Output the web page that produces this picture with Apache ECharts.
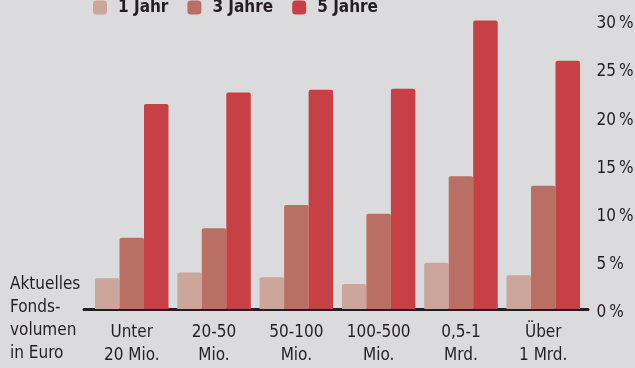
<!DOCTYPE html>
<html>
<head>
<meta charset="utf-8">
<script src="https://cdn.jsdelivr.net/npm/echarts@6/dist/echarts.min.js"></script>
<style>
  html, body { margin: 0; padding: 0; background: #dbdbdd; }
  #chart { width: 635px; height: 368px; }
</style>
</head>
<body>
<div id="chart"></div>
<script>
  // Kategorien (Fondsvolumen)
  var categories = ['Unter\n20 Mio.', '20-50\nMio.', '50-100\nMio.', '100-500\nMio.', '0,5-1\nMrd.', 'Über\n1 Mrd.'];
  var seriesNames = ['1 Jahr', '3 Jahre', '5 Jahre'];
  // Werte in Prozent, aus dem Bild geschätzt
  var einJahr = [3.2, 3.8, 3.3, 2.6, 4.8, 3.5];
  var dreiJahre = [7.4, 8.4, 10.8, 9.9, 13.8, 12.8];
  var fuenfJahre = [21.3, 22.5, 22.8, 22.9, 30.0, 25.8];
  var yTicks = [0, 5, 10, 15, 20, 25, 30];

  var font = '"DejaVu Sans Condensed", "Liberation Sans Narrow", sans-serif';
  var ink = '#231f20';
  var colors = ['#cca59b', '#b96f63', '#c74045'];

  var chart = echarts.init(document.getElementById('chart'));

  function barSeries(name, data) {
    return {
      name: name,
      type: 'bar',
      xAxisIndex: 0,
      yAxisIndex: 0,
      data: data,
      barGap: '0%',
      barCategoryGap: '10.7%',
      itemStyle: { borderRadius: [2, 2, 0, 0] }
    };
  }

  chart.setOption({
    backgroundColor: '#dbdbdd',
    color: colors,
    animation: false,
    title: {
      text: 'Aktuelles\nFonds-\nvolumen\nin Euro',
      left: 10,
      top: 273,
      padding: 0,
      textStyle: { fontFamily: font, fontSize: 17, fontWeight: 'normal', color: ink, lineHeight: 23 }
    },
    legend: {
      data: seriesNames,
      left: 93,
      top: -1,
      padding: 0,
      itemWidth: 14,
      itemHeight: 14,
      itemGap: 19,
      icon: 'roundRect',
      textStyle: { fontFamily: font, fontSize: 17, fontWeight: 'bold', color: ink, padding: [0, 0, 0, 6] }
    },
    grid: [
      { left: 90.6, right: 50.6, top: 20.4, bottom: 59, containLabel: false, outerBoundsMode: 'none' },
      { left: 84, right: 47, top: 20.4, bottom: 59, containLabel: false, outerBoundsMode: 'none' }
    ],
    xAxis: [
      {
        type: 'category',
        gridIndex: 0,
        data: categories,
        axisLine: { show: false },
        axisTick: { show: false },
        axisLabel: { fontFamily: font, fontSize: 17, color: ink, lineHeight: 23, margin: 12, interval: 0 }
      },
      {
        type: 'value',
        gridIndex: 1,
        min: 0,
        max: 1,
        axisLine: { show: true, onZero: false, lineStyle: { color: ink, width: 3 } },
        axisTick: { show: false },
        axisLabel: { show: false },
        splitLine: { show: false }
      }
    ],
    yAxis: [
      {
        type: 'value',
        gridIndex: 0,
        position: 'right',
        min: yTicks[0],
        max: yTicks[yTicks.length - 1],
        interval: 5,
        axisLine: { show: false },
        axisTick: { show: false },
        splitLine: { show: false },
        axisLabel: {
          fontFamily: font, fontSize: 17, color: ink, margin: 12,
          formatter: function (v) { return '{p|' + v + '\u2009%}'; },
          rich: { p: { fontFamily: font, fontSize: 17, color: ink, padding: [7, 0, 0, 0] } }
        }
      },
      { type: 'value', gridIndex: 1, show: false }
    ],
    series: [
      barSeries(seriesNames[0], einJahr),
      barSeries(seriesNames[1], dreiJahre),
      barSeries(seriesNames[2], fuenfJahre)
    ]
  });
</script>
</body>
</html>
